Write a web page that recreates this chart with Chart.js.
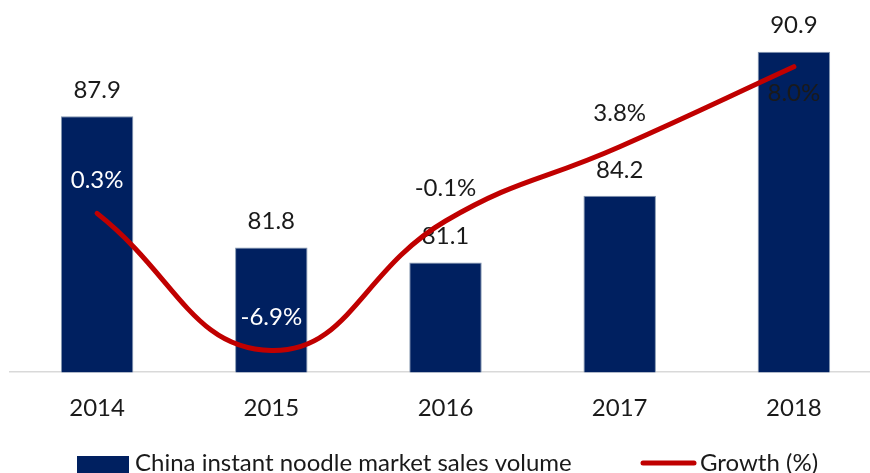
<!DOCTYPE html>
<html>
<head>
<meta charset="utf-8">
<script src="https://cdn.jsdelivr.net/npm/chart.js@4/dist/chart.umd.min.js"></script>
<style>
  html, body { margin: 0; padding: 0; background: #fff; overflow: hidden; }
  #wrap { width: 870px; height: 473px; overflow: hidden; }
</style>
</head>
<body>
<div id="wrap"><canvas id="chart" width="890" height="473"></canvas></div>
<script>
const years = ["2014", "2015", "2016", "2017", "2018"];
const salesVolume = [87.9, 81.8, 81.1, 84.2, 90.9];
const growthPct = [0.3, -6.9, -0.1, 3.8, 8.0];

const NAVY = "#002060";
const RED = "#c00000";
const FONT = "Lato";
const SIZE = 24;

// label styling for the growth series: which sit under the point, which are white
const growthBelow = [false, false, false, false, true];
const growthLight = [true, true, false, false, false];

const labelsPlugin = {
    id: "valueLabels",
    afterDatasetDraw(chart, args) {
        const ctx = chart.ctx;
        const meta = args.meta;
        ctx.save();
        ctx.font = `${SIZE}px ${FONT}`;
        ctx.textAlign = "center";
        ctx.textBaseline = "middle";
        if (meta.type === "bar") {
            ctx.fillStyle = "#1a1a1a";
            meta.data.forEach((bar, i) => {
                ctx.fillText(salesVolume[i].toFixed(1), bar.x, bar.y - 26);
            });
        }
        ctx.restore();
    },
    afterDatasetsDraw(chart) {
        const ctx = chart.ctx;
        const meta = chart.getDatasetMeta(1);
        ctx.save();
        ctx.font = `${SIZE}px ${FONT}`;
        ctx.textAlign = "center";
        ctx.textBaseline = "middle";
        meta.data.forEach((pt, i) => {
            ctx.fillStyle = growthLight[i] ? "#ffffff" : "#1a1a1a";
            const dy = growthBelow[i] ? 27 : -33;
            ctx.fillText(growthPct[i].toFixed(1) + "%", pt.x, pt.y + dy);
        });
        ctx.restore();
    },
    afterDraw(chart) {
        // legend row along the bottom edge
        const ctx = chart.ctx;
        const ds = chart.data.datasets;
        ctx.save();
        ctx.font = `${SIZE}px ${FONT}`;
        ctx.textBaseline = "alphabetic";
        ctx.fillStyle = NAVY;
        ctx.fillRect(77, 456, 52, 20);
        ctx.fillStyle = "#1a1a1a";
        ctx.fillText(ds[0].label, 135, 471);
        ctx.strokeStyle = RED;
        ctx.lineWidth = 5;
        ctx.lineCap = "round";
        ctx.beginPath();
        ctx.moveTo(643, 463);
        ctx.lineTo(694, 463);
        ctx.stroke();
        ctx.fillText(ds[1].label, 700, 471);
        ctx.restore();
    }
};

new Chart(document.getElementById("chart").getContext("2d"), {
    data: {
        labels: years,
        datasets: [
            {
                type: "bar",
                label: "China instant noodle market sales volume",
                data: salesVolume,
                yAxisID: "y",
                backgroundColor: NAVY,
                borderColor: "#8497b0",
                borderWidth: 1,
                borderSkipped: "bottom",
                categoryPercentage: 1,
                barPercentage: 0.416,
                order: 1
            },
            {
                type: "line",
                label: "Growth (%)",
                data: growthPct,
                yAxisID: "y2",
                borderColor: RED,
                borderWidth: 5,
                borderCapStyle: "round",
                tension: 0.45,
                pointRadius: 0,
                order: 0
            }
        ]
    },
    options: {
        responsive: false,
        animation: false,
        layout: {padding: {top: 0, left: 10, right: 9, bottom: 28}},
        plugins: {
            legend: {display: false},
            tooltip: {enabled: false}
        },
        scales: {
            x: {
                grid: {display: false, drawTicks: false},
                border: {display: true, color: "#d9d9d9", width: 1.5},
                ticks: {
                    padding: 22,
                    color: "#1a1a1a",
                    font: {family: FONT, size: SIZE}
                }
            },
            y: {display: false, min: 76, max: 93.3},
            y2: {display: false, min: -8.035, max: 11.5}
        }
    },
    plugins: [labelsPlugin]
});
</script>
</body>
</html>
